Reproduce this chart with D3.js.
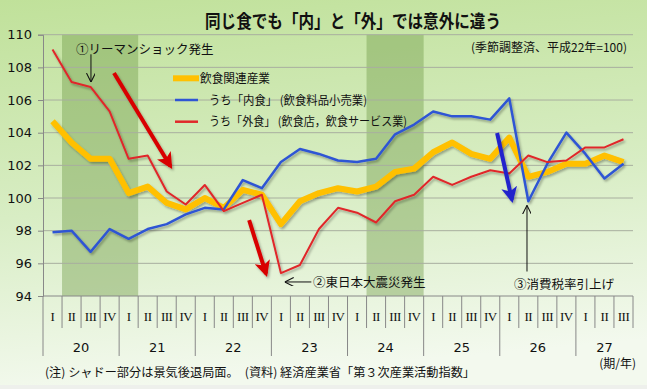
<!DOCTYPE html>
<html>
<head>
<meta charset="utf-8">
<script src="https://cdn.jsdelivr.net/npm/d3@7"></script>
<style>
  body { margin: 0; background: #fff; }
  svg { display: block; }
  .jp { font-family: "Noto Sans CJK JP", sans-serif; fill: #111; }
  .num { font-family: "DejaVu Sans", sans-serif; fill: #111; }
</style>
</head>
<body>
<script>
// quarters 平成20年Ⅰ期 .. 平成27年Ⅲ期
const years = ['20', '21', '22', '23', '24', '25', '26', '27'];
const quarterNames = ['I', 'II', 'III', 'IV'];
const quartersPerYear = [4, 4, 4, 4, 4, 4, 4, 3];

// 飲食関連産業
const totalFood = [104.7, 103.4, 102.4, 102.4, 100.3, 100.7, 99.7, 99.3, 100.0, 99.4,
  100.5, 100.2, 98.4, 99.8, 100.3, 100.6, 100.4, 100.7, 101.6, 101.8,
  102.8, 103.4, 102.7, 102.4, 103.7, 101.3, 101.6, 102.1, 102.1, 102.6, 102.2];
// うち「内食」
const homeFood = [97.9, 98.0, 96.7, 98.1, 97.5, 98.1, 98.4, 99.0, 99.4, 99.3,
  101.1, 100.6, 102.2, 103.0, 102.7, 102.3, 102.2, 102.4, 103.9, 104.5,
  105.3, 105.0, 105.0, 104.8, 106.1, 99.8, 102.1, 104.0, 102.7, 101.2, 102.1];
// うち「外食」
const eatOut = [109.1, 107.1, 106.8, 105.3, 102.4, 102.6, 100.4, 99.6, 100.8, 99.2,
  99.7, 100.2, 95.4, 95.9, 98.1, 99.4, 99.1, 98.5, 99.8, 100.2,
  101.3, 100.8, 101.3, 101.7, 101.5, 102.6, 102.2, 102.3, 103.1, 103.1, 103.6];

const yTicks = [94, 96, 98, 100, 102, 104, 106, 108, 110];
// 景気後退局面 (quarter index ranges)
const recessions = [[1, 4], [17, 19]];

const W = 647, H = 389;
const svg = d3.select('body').append('svg').attr('width', W).attr('height', H);
const defs = svg.append('defs');

const bg = defs.append('linearGradient').attr('id', 'bg')
  .attr('x1', 0).attr('y1', 0).attr('x2', 0.15).attr('y2', 1);
bg.append('stop').attr('offset', 0).attr('stop-color', '#c0e19a');
bg.append('stop').attr('offset', 0.55).attr('stop-color', '#d8edc4');
bg.append('stop').attr('offset', 1).attr('stop-color', '#f3f9ee');
svg.append('rect').attr('width', W).attr('height', H).attr('fill', 'url(#bg)');
svg.append('rect').attr('y', H - 4).attr('width', W).attr('height', 4).attr('fill', '#eef0ec');

const shadow = defs.append('filter').attr('id', 'shadow')
  .attr('x', '-10%').attr('y', '-10%').attr('width', '130%').attr('height', '130%');
shadow.append('feDropShadow').attr('dx', 1.5).attr('dy', 2).attr('stdDeviation', 1.2)
  .attr('flood-color', '#000').attr('flood-opacity', 0.3);

const nQ = totalFood.length;
const x = d3.scaleLinear().domain([-0.5, nQ - 0.5]).range([43, 633]);
const y = d3.scaleLinear().domain([94, 110]).range([296, 34.7]);

// recession shading
svg.append('g').selectAll('rect').data(recessions).join('rect')
  .attr('x', d => x(d[0] - 0.5))
  .attr('width', d => x(d[1] + 0.5) - x(d[0] - 0.5))
  .attr('y', y(110)).attr('height', y(94) - y(110))
  .attr('fill', '#6f9a48').attr('opacity', 0.42);

// grid
svg.append('g').selectAll('line').data(yTicks.slice(1)).join('line')
  .attr('x1', x(-0.5)).attr('x2', x(nQ - 0.5))
  .attr('y1', d => y(d)).attr('y2', d => y(d))
  .attr('stroke', '#a8ae9f').attr('stroke-width', 1);

// y axis
const yAxis = svg.append('g').attr('transform', `translate(${x(-0.5)},0)`)
  .call(d3.axisLeft(y).tickValues(yTicks).tickSize(5).tickPadding(6));
yAxis.select('.domain').attr('stroke', '#888');
yAxis.selectAll('.tick line').attr('stroke', '#888');
yAxis.selectAll('.tick text').attr('class', 'num').style('font-size', '13px')
  .attr('font-family', null).attr('fill', '#111');
yAxis.attr('font-family', null).attr('font-size', null);

// x axis: quarters and years
const quarters = [];
years.forEach((yr, i) => {
  for (let q = 0; q < quartersPerYear[i]; q++) quarters.push({ yr, q: quarterNames[q], yearStart: q === 0 });
});
const xg = svg.append('g');
xg.append('line').attr('x1', x(-0.5)).attr('x2', x(nQ - 0.5))
  .attr('y1', y(94)).attr('y2', y(94)).attr('stroke', '#888');
xg.selectAll('line.sep').data(quarters).join('line').attr('class', 'sep')
  .attr('x1', (d, i) => x(i - 0.5)).attr('x2', (d, i) => x(i - 0.5))
  .attr('y1', y(94)).attr('y2', d => d.yearStart ? 356 : 328)
  .attr('stroke', '#888');
xg.append('line').attr('x1', x(nQ - 0.5)).attr('x2', x(nQ - 0.5))
  .attr('y1', y(94)).attr('y2', 328).attr('stroke', '#888');
xg.selectAll('text.q').data(quarters).join('text').attr('class', 'q')
  .attr('x', (d, i) => x(i)).attr('y', 321)
  .attr('text-anchor', 'middle')
  .style('font-family', '"Liberation Serif", serif').style('font-size', '13px')
  .style('letter-spacing', '-0.5px').attr('fill', '#111')
  .text(d => d.q);
let start = 0;
const yearPos = years.map((yr, i) => {
  const c = start + (quartersPerYear[i] - 1) / 2;
  start += quartersPerYear[i];
  return { yr, c };
});
xg.selectAll('text.yr').data(yearPos).join('text').attr('class', 'num yr')
  .attr('x', d => x(d.c)).attr('y', 352).attr('text-anchor', 'middle')
  .style('font-size', '13px').text(d => d.yr);

// series
const line = d3.line().x((d, i) => x(i)).y(d => y(d));
const series = [
  { name: '飲食関連産業', values: totalFood, color: '#ffc000', width: 6, len: 70 },
  { name: 'うち「内食」 (飲食料品小売業)', values: homeFood, color: '#2f55d4', width: 2.5, len: 158 },
  { name: 'うち「外食」 (飲食店，飲食サービス業)', values: eatOut, color: '#e0282a', width: 2, len: 198 }
];
svg.append('g').attr('filter', 'url(#shadow)').selectAll('path').data(series).join('path')
  .attr('d', d => line(d.values))
  .attr('fill', 'none').attr('stroke', d => d.color).attr('stroke-width', d => d.width)
  .attr('stroke-linejoin', 'round');

// legend
const legendY = [78.3, 100, 121.7];
const legend = svg.append('g').selectAll('g').data(series).join('g')
  .attr('transform', (d, i) => `translate(0,${legendY[i]})`);
legend.append('line').attr('x1', (d, i) => i === 0 ? 173 : 175).attr('x2', (d, i) => i === 0 ? 199 : 198)
  .attr('stroke', d => d.color).attr('stroke-width', d => d.width === 6 ? 6 : 2.5);
legend.append('text').attr('class', 'jp').attr('x', (d, i) => i === 0 ? 200 : 209).attr('y', 4.5)
  .attr('textLength', d => d.len).attr('lengthAdjust', 'spacingAndGlyphs')
  .style('font-size', '12px').text(d => d.name);

// title & notes
svg.append('text').attr('class', 'jp').attr('x', 353).attr('y', 28).attr('text-anchor', 'middle')
  .attr('textLength', 296).attr('lengthAdjust', 'spacingAndGlyphs')
  .style('font-size', '18px').style('font-weight', 'bold').text('同じ食でも「内」と「外」では意外に違う');
svg.append('text').attr('class', 'jp').attr('x', 627).attr('y', 52).attr('text-anchor', 'end')
  .style('font-size', '12px').text('(季節調整済、平成22年=100)');
svg.append('text').attr('class', 'jp').attr('x', 636).attr('y', 368).attr('text-anchor', 'end')
  .style('font-size', '12px').text('(期/年)');
svg.append('text').attr('class', 'jp').attr('x', 45).attr('y', 377)
  .attr('textLength', 430).attr('lengthAdjust', 'spacingAndGlyphs')
  .style('font-size', '12px').text('(注) シャドー部分は景気後退局面。　(資料) 経済産業省「第３次産業活動指数」');

// annotations (positions in quarter index / index value)
const events = [
  { text: '①リーマンショック発生', tx: 1.24, tv: 108.8, anchor: 'start', from: [2.02, 108.8], to: [2.02, 107.1] },
  { text: '②東日本大震災発生', tx: 13.68, tv: 94.55, anchor: 'start', from: [13.6, 94.86], to: [12.2, 94.86] },
  { text: '③消費税率引上げ', tx: 24.25, tv: 94.45, anchor: 'start', from: [24.93, 95.5], to: [24.93, 99.55] }
];
const thin = defs.append('marker').attr('id', 'thin').attr('viewBox', '0 0 10 10')
  .attr('refX', 10).attr('refY', 5).attr('markerWidth', 9).attr('markerHeight', 9)
  .attr('markerUnits', 'userSpaceOnUse').attr('orient', 'auto');
thin.append('path').attr('d', 'M0,0 L10,5 L0,10').attr('fill', 'none').attr('stroke', '#111').attr('stroke-width', 1.2);
const ev = svg.append('g').selectAll('g').data(events).join('g');
ev.append('line')
  .attr('x1', d => x(d.from[0])).attr('y1', d => y(d.from[1]))
  .attr('x2', d => x(d.to[0])).attr('y2', d => y(d.to[1]))
  .attr('stroke', '#111').attr('stroke-width', 1).attr('marker-end', 'url(#thin)');
ev.append('text').attr('class', 'jp').attr('x', d => x(d.tx)).attr('y', d => y(d.tv))
  .attr('text-anchor', d => d.anchor).style('font-size', '12.5px').text(d => d.text);

// big trend arrows
const trends = [
  { from: [3.23, 107.65], to: [6.2, 101.95], color: '#d80000' },
  { from: [10.33, 98.65], to: [11.22, 95.35], color: '#d80000' },
  { from: [23.36, 103.98], to: [24.14, 99.88], color: '#2222cc' }
];
trends.forEach((t, i) => {
  const m = defs.append('marker').attr('id', 'big' + i).attr('viewBox', '0 0 10 10')
    .attr('refX', 8).attr('refY', 5).attr('markerWidth', 16).attr('markerHeight', 16)
    .attr('markerUnits', 'userSpaceOnUse').attr('orient', 'auto');
  m.append('path').attr('d', 'M0,0 L10,5 L0,10 L2.5,5 z').attr('fill', t.color);
});
svg.append('g').attr('filter', 'url(#shadow)').selectAll('line').data(trends).join('line')
  .attr('x1', d => x(d.from[0])).attr('y1', d => y(d.from[1]))
  .attr('x2', d => x(d.to[0])).attr('y2', d => y(d.to[1]))
  .attr('stroke', d => d.color).attr('stroke-width', 4)
  .attr('marker-end', (d, i) => `url(#big${i})`);
</script>
</body>
</html>
